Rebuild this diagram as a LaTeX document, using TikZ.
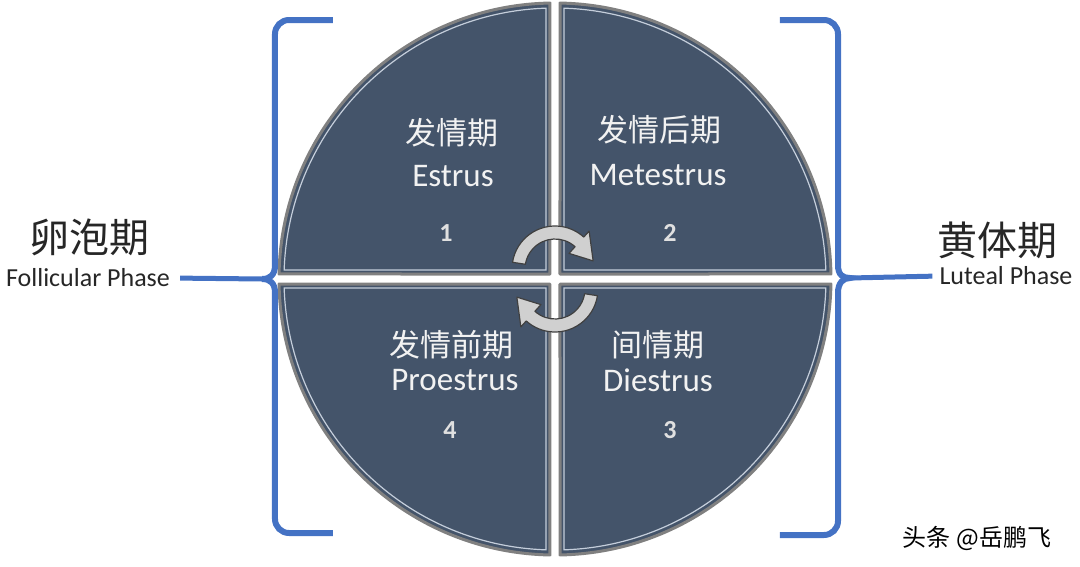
\documentclass[tikz,border=0pt]{standalone}
\usepackage{fontspec}
\setmainfont{Carlito}
\newfontfamily\cjk{Noto Sans CJK SC}
\usepackage{tikz}
\usetikzlibrary{positioning}
\definecolor{slate}{HTML}{44546A}
\definecolor{edgegray}{HTML}{808080}
\definecolor{hilite}{HTML}{C5CEDB}
\definecolor{bracketblue}{HTML}{4472C4}
\definecolor{arrowgray}{HTML}{D0D0D0}
\definecolor{phasetext}{HTML}{F2F2F2}

\begin{document}
\begin{tikzpicture}[x=1pt, y=1pt]
	% Define styles for quadrants, arrows and labels
	\tikzset{
		quad/.style={fill=slate, draw=edgegray, line width=3pt, line join=round},
		hiline/.style={draw=hilite, line width=1.2pt},
		cycarrow/.style={fill=arrowgray, draw=black!75, line width=1.2pt, line join=round},
		brace/.style={draw=bracketblue, line width=6pt},
		cnlabel/.style={text=phasetext, font=\cjk\fontsize{31}{31}\selectfont, inner sep=0pt},
		enlabel/.style={text=phasetext, font=\fontsize{33}{33}\selectfont, inner sep=0pt},
		numlabel/.style={text=black!12, font=\bfseries\fontsize{26}{26}\selectfont, inner sep=0pt},
		phasecn/.style={text=black!85, font=\cjk\fontsize{40}{40}\selectfont, inner sep=0pt},
		phaseen/.style={text=black!85, font=\fontsize{26}{26}\selectfont, inner sep=0pt}
	}
	\useasboundingbox (-555,-287) rectangle (525,279);
	
	% the four quadrants
	\foreach \a in {0,90,180,270}{
		\draw[quad, rotate=\a] (5,5) -- (1.04:276) arc[start angle=1.04, end angle=88.96, radius=276] -- cycle;
		\draw[hiline, rotate=\a] (9,9) -- (1.9:271) arc[start angle=1.9, end angle=88.1, radius=271] -- cycle;
	}
	
	% cycle arrows in the middle
	\foreach \a in {0,180}{
		\begin{scope}[rotate=\a, shift={(0,10)}]
			\filldraw[cycarrow] (171:43) arc[start angle=171, end angle=48, radius=43] -- (48:51) -- (12:39) -- (48:21) -- (48:30) arc[start angle=48, end angle=171, radius=30] -- cycle;
		\end{scope}
	}
	
	% Quadrant texts
	\node[cnlabel] (estrusCn) at (-103,146) {发情期};
	\node[enlabel] (estrusEn) at (-102,103) {Estrus};
	\node[numlabel] (estrusNum) at (-109,46) {1};
	
	\node[cnlabel] (metestrusCn) at (105,149) {发情后期};
	\node[enlabel] (metestrusEn) at (103,104) {Metestrus};
	\node[numlabel] (metestrusNum) at (115,46) {2};
	
	\node[cnlabel] (diestrusCn) at (103,-66) {间情期};
	\node[enlabel] (diestrusEn) at (103,-101) {Diestrus};
	\node[numlabel] (diestrusNum) at (115,-151) {3};
	
	\node[cnlabel] (proestrusCn) at (-103,-66) {发情前期};
	\node[enlabel] (proestrusEn) at (-100,-101) {Proestrus};
	\node[numlabel] (proestrusNum) at (-105,-151) {4};
	
	% brackets
	\coordinate (tipL) at (-293,0);
	\coordinate (tipR) at (295,1);
	\draw[brace] (-222,259) -- (-266,259) arc[start angle=90, end angle=180, radius=14] -- (-280,14) .. controls (-280,4) and (-285,0) .. (tipL) .. controls (-285,0) and (-280,-4) .. (-280,-14) -- (-280,-240) arc[start angle=180, end angle=270, radius=14] -- (-222,-254);
	\draw[brace] (225,259) -- (269,259) arc[start angle=90, end angle=0, radius=14] -- (283,14) .. controls (283,4) and (288,1) .. (tipR) .. controls (288,1) and (283,-4) .. (283,-14) -- (283,-242) arc[start angle=0, end angle=-90, radius=14] -- (225,-256);
	
	% phase labels
	\node[phasecn] (follicCn) at (-465,42) {卵泡期};
	\node[phaseen] (follicEn) at (-467,1) {Follicular Phase};
	\node[phasecn] (lutealCn) at (442,39) {黄体期};
	\node[phaseen] (lutealEn) at (451,3) {Luteal Phase};
	
	\draw[brace, line width=5pt, shorten <=10pt] (follicEn.east) -- (tipL);
	\draw[brace, line width=5pt, shorten <=7pt] (lutealEn.west) -- (tipR);
	
	% watermark
	\node[font=\cjk\fontsize{24}{24}\selectfont, inner sep=0pt] (mark) at (422,-259) {头条 @岳鹏飞};
\end{tikzpicture}
\end{document}
